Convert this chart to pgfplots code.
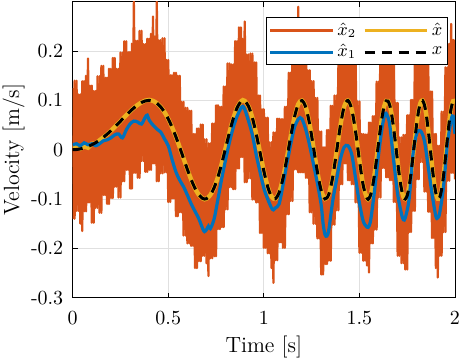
\documentclass[border=0pt]{standalone}
\usepackage{pgfplots}
\pgfplotsset{compat=1.18}
\definecolor{mOrange}{rgb}{0.850,0.325,0.098}
\definecolor{mYellow}{rgb}{0.929,0.694,0.125}
\definecolor{mBlue}{rgb}{0.000,0.447,0.741}
\begin{document}
\begin{tikzpicture}
\begin{axis}[
  scale only axis, width=191.15pt, height=148pt,
  xmin=0, xmax=2, ymin=-0.3, ymax=0.3,
  xtick={0,0.5,1,1.5,2},
  ytick={-0.3,-0.2,-0.1,0,0.1,0.2},
  yticklabels={-0.3,-0.2,-0.1,0,0.1,0.2},
  xticklabel style={yshift=-3.3pt},
  yticklabel style={xshift=-1.2pt},
  grid=major, major grid style={line width=0.4pt, draw=black!12},
  major tick length=2.5pt,
  tick style={black, line width=0.4pt},
  xlabel={Time [s]}, ylabel={Velocity [m/s]},
  label style={font=\fontsize{11}{13}\selectfont},
  xlabel style={yshift=1pt},
  ylabel style={yshift=-3.7pt},
  legend columns=2,
  legend image code/.code={\draw[#1, line width=1.5pt] (0cm,0cm) -- (1.1cm,0cm);},
  legend style={at={(rel axis cs:0.981,0.947)}, anchor=north east, draw=black, line width=0.4pt, fill=white,
    inner sep=1pt, font=\small, nodes={inner sep=1.5pt}, /tikz/every even column/.append style={column sep=2pt}},
]
\addplot[color=mOrange, line width=1.1pt, line join=round] coordinates {
(0.00,0.125)(0.01,-0.140)(0.02,0.140)(0.03,-0.124)(0.04,0.112)(0.05,-0.165)(0.06,0.139)(0.07,-0.125)(0.08,0.185)(0.09,-0.107)
(0.10,0.130)(0.11,-0.148)(0.12,0.119)(0.13,-0.118)(0.14,0.149)(0.15,-0.128)(0.16,0.170)(0.17,-0.092)(0.18,0.146)(0.19,-0.110)
(0.20,0.164)(0.21,-0.098)(0.22,0.186)(0.23,-0.075)(0.24,0.164)(0.25,-0.097)(0.26,0.197)(0.27,-0.064)(0.28,0.220)(0.29,-0.041)
(0.30,0.198)(0.31,-0.079)(0.32,0.300)(0.33,-0.047)(0.34,0.221)(0.35,-0.057)(0.36,0.241)(0.37,-0.023)(0.38,0.214)(0.39,-0.045)
(0.40,0.225)(0.41,-0.041)(0.42,0.270)(0.43,-0.028)(0.44,0.300)(0.45,-0.064)(0.46,0.222)(0.47,-0.048)(0.48,0.226)(0.49,-0.046)
(0.50,0.182)(0.51,-0.106)(0.52,0.151)(0.53,-0.099)(0.54,0.156)(0.55,-0.135)(0.56,0.150)(0.57,-0.127)(0.58,0.097)(0.59,-0.174)
(0.60,0.085)(0.61,-0.190)(0.62,0.079)(0.63,-0.195)(0.64,0.032)(0.65,-0.240)(0.66,0.043)(0.67,-0.226)(0.68,0.051)(0.69,-0.215)
(0.70,0.021)(0.71,-0.256)(0.72,0.013)(0.73,-0.220)(0.74,0.053)(0.75,-0.216)(0.76,0.090)(0.77,-0.161)(0.78,0.087)(0.79,-0.157)
(0.80,0.128)(0.81,-0.121)(0.82,0.175)(0.83,-0.076)(0.84,0.173)(0.85,-0.080)(0.86,0.220)(0.87,-0.038)(0.88,0.248)(0.89,-0.015)
(0.90,0.260)(0.91,-0.066)(0.92,0.193)(0.93,-0.058)(0.94,0.195)(0.95,-0.101)(0.96,0.177)(0.97,-0.107)(0.98,0.110)(0.99,-0.169)
(1.00,0.082)(1.01,-0.199)(1.02,0.065)(1.03,-0.210)(1.04,0.015)(1.05,-0.270)(1.06,0.035)(1.07,-0.224)(1.08,0.063)(1.09,-0.188)
(1.10,0.062)(1.11,-0.199)(1.12,0.087)(1.13,-0.131)(1.14,0.156)(1.15,-0.104)(1.16,0.211)(1.17,-0.040)(1.18,0.290)(1.19,-0.046)
(1.20,0.225)(1.21,-0.046)(1.22,0.225)(1.23,-0.057)(1.24,0.161)(1.25,-0.127)(1.26,0.139)(1.27,-0.150)(1.28,0.105)(1.29,-0.180)
(1.30,0.037)(1.31,-0.253)(1.32,0.005)(1.33,-0.232)(1.34,0.040)(1.35,-0.225)(1.36,0.089)(1.37,-0.152)(1.38,0.110)(1.39,-0.123)
(1.40,0.173)(1.41,-0.070)(1.42,0.227)(1.43,-0.028)(1.44,0.210)(1.45,-0.062)(1.46,0.217)(1.47,-0.070)(1.48,0.186)(1.49,-0.107)
(1.50,0.098)(1.51,-0.209)(1.52,0.032)(1.53,-0.225)(1.54,0.031)(1.55,-0.249)(1.56,0.055)(1.57,-0.190)(1.58,0.068)(1.59,-0.162)
(1.60,0.138)(1.61,-0.097)(1.62,0.210)(1.63,-0.037)(1.64,0.245)(1.65,-0.056)(1.66,0.223)(1.67,-0.062)(1.68,0.191)(1.69,-0.106)
(1.70,0.095)(1.71,-0.215)(1.72,0.025)(1.73,-0.230)(1.74,0.030)(1.75,-0.243)(1.76,0.070)(1.77,-0.167)(1.78,0.101)(1.79,-0.124)
(1.80,0.178)(1.81,-0.060)(1.82,0.236)(1.83,-0.025)(1.84,0.201)(1.85,-0.085)(1.86,0.175)(1.87,-0.126)(1.88,0.118)(1.89,-0.179)
(1.90,0.032)(1.91,-0.259)(1.92,0.008)(1.93,-0.215)(1.94,0.077)(1.95,-0.167)(1.96,0.167)(1.97,-0.063)(1.98,0.255)(1.99,-0.047)(2.00,0.223)
};
\addlegendentry{$\hat{x}_2$}
\addplot[color=mOrange, line width=1.1pt, line join=round, forget plot] coordinates {
(0.00,-0.140)(0.01,0.140)(0.02,-0.124)(0.03,0.112)(0.04,-0.150)(0.05,0.139)(0.06,-0.125)(0.07,0.150)(0.08,-0.107)(0.09,0.130)
(0.10,-0.148)(0.11,0.119)(0.12,-0.118)(0.13,0.149)(0.14,-0.128)(0.15,0.170)(0.16,-0.092)(0.17,0.146)(0.18,-0.110)(0.19,0.164)
(0.20,-0.098)(0.21,0.186)(0.22,-0.075)(0.23,0.164)(0.24,-0.097)(0.25,0.197)(0.26,-0.064)(0.27,0.220)(0.28,-0.041)(0.29,0.198)
(0.30,-0.079)(0.31,0.215)(0.32,-0.047)(0.33,0.221)(0.34,-0.057)(0.35,0.241)(0.36,-0.023)(0.37,0.214)(0.38,-0.045)(0.39,0.225)
(0.40,-0.041)(0.41,0.235)(0.42,-0.028)(0.43,0.230)(0.44,-0.064)(0.45,0.222)(0.46,-0.048)(0.47,0.226)(0.48,-0.046)(0.49,0.182)
(0.50,-0.106)(0.51,0.151)(0.52,-0.099)(0.53,0.156)(0.54,-0.135)(0.55,0.150)(0.56,-0.127)(0.57,0.097)(0.58,-0.174)(0.59,0.085)
(0.60,-0.190)(0.61,0.079)(0.62,-0.195)(0.63,0.032)(0.64,-0.240)(0.65,0.043)(0.66,-0.226)(0.67,0.051)(0.68,-0.215)(0.69,0.021)
(0.70,-0.230)(0.71,0.013)(0.72,-0.220)(0.73,0.053)(0.74,-0.216)(0.75,0.090)(0.76,-0.161)(0.77,0.087)(0.78,-0.157)(0.79,0.128)
(0.80,-0.121)(0.81,0.175)(0.82,-0.076)(0.83,0.173)(0.84,-0.080)(0.85,0.220)(0.86,-0.038)(0.87,0.248)(0.88,-0.015)(0.89,0.225)
(0.90,-0.066)(0.91,0.193)(0.92,-0.058)(0.93,0.195)(0.94,-0.101)(0.95,0.177)(0.96,-0.107)(0.97,0.110)(0.98,-0.169)(0.99,0.082)
(1.00,-0.199)(1.01,0.065)(1.02,-0.210)(1.03,0.015)(1.04,-0.240)(1.05,0.035)(1.06,-0.224)(1.07,0.063)(1.08,-0.188)(1.09,0.062)
(1.10,-0.199)(1.11,0.087)(1.12,-0.131)(1.13,0.156)(1.14,-0.104)(1.15,0.211)(1.16,-0.040)(1.17,0.215)(1.18,-0.046)(1.19,0.225)
(1.20,-0.046)(1.21,0.225)(1.22,-0.057)(1.23,0.161)(1.24,-0.127)(1.25,0.139)(1.26,-0.150)(1.27,0.105)(1.28,-0.180)(1.29,0.037)
(1.30,-0.253)(1.31,0.005)(1.32,-0.232)(1.33,0.040)(1.34,-0.225)(1.35,0.089)(1.36,-0.152)(1.37,0.110)(1.38,-0.123)(1.39,0.173)
(1.40,-0.070)(1.41,0.227)(1.42,-0.028)(1.43,0.210)(1.44,-0.062)(1.45,0.217)(1.46,-0.070)(1.47,0.186)(1.48,-0.107)(1.49,0.098)
(1.50,-0.209)(1.51,0.032)(1.52,-0.225)(1.53,0.031)(1.54,-0.235)(1.55,0.055)(1.56,-0.190)(1.57,0.068)(1.58,-0.162)(1.59,0.138)
(1.60,-0.097)(1.61,0.210)(1.62,-0.037)(1.63,0.215)(1.64,-0.056)(1.65,0.223)(1.66,-0.062)(1.67,0.191)(1.68,-0.106)(1.69,0.095)
(1.70,-0.215)(1.71,0.025)(1.72,-0.230)(1.73,0.030)(1.74,-0.243)(1.75,0.070)(1.76,-0.167)(1.77,0.101)(1.78,-0.124)(1.79,0.178)
(1.80,-0.060)(1.81,0.236)(1.82,-0.025)(1.83,0.201)(1.84,-0.085)(1.85,0.175)(1.86,-0.126)(1.87,0.118)(1.88,-0.179)(1.89,0.032)
(1.90,-0.240)(1.91,0.008)(1.92,-0.215)(1.93,0.077)(1.94,-0.167)(1.95,0.167)(1.96,-0.063)(1.97,0.215)(1.98,-0.047)(1.99,0.223)(2.00,-0.060)
};
\addplot[color=mYellow, line width=2.2pt, smooth] coordinates {
(0,0.004)(0.02,0.006)(0.04,0.002)(0.06,0.007)(0.08,0.004)(0.10,0.012)(0.12,0.013)(0.14,0.019)(0.16,0.025)(0.18,0.031)
(0.20,0.0385)(0.22,0.0460)(0.24,0.0538)(0.26,0.0619)(0.28,0.0699)(0.30,0.0776)(0.32,0.0847)(0.34,0.0909)(0.36,0.0958)(0.38,0.0995)
(0.40,0.1010)(0.42,0.0990)(0.44,0.0943)(0.46,0.0869)(0.48,0.0763)(0.50,0.0624)(0.52,0.0455)(0.54,0.0261)(0.56,0.0046)(0.58,-0.0178)
(0.60,-0.0400)(0.62,-0.0607)(0.64,-0.0784)(0.66,-0.0916)(0.68,-0.0989)(0.69,-0.1005)(0.70,-0.0992)(0.72,-0.0919)(0.74,-0.0770)(0.76,-0.0550)
(0.78,-0.0275)(0.80,0.0034)(0.82,0.0346)(0.84,0.0630)(0.86,0.0851)(0.88,0.0978)(0.89,0.1005)(0.90,0.0990)(0.92,0.0878)(0.94,0.0647)
(0.96,0.0323)(0.98,-0.0054)(1.00,-0.0431)(1.02,-0.0747)(1.04,-0.0949)(1.06,-0.0996)(1.08,-0.0869)(1.10,-0.0584)(1.12,-0.0184)(1.14,0.0258)
(1.16,0.0655)(1.18,0.0923)(1.20,0.0997)(1.22,0.0851)(1.24,0.0507)(1.26,0.0038)(1.28,-0.0447)(1.30,-0.0826)(1.32,-0.0997)(1.34,-0.0903)
(1.36,-0.0560)(1.38,-0.0053)(1.40,0.0476)(1.42,0.0869)(1.44,0.0999)(1.46,0.0815)(1.48,0.0364)(1.50,-0.0215)(1.52,-0.0726)(1.54,-0.0988)
(1.55,-0.0991)(1.56,-0.0897)(1.57,-0.0720)(1.58,-0.0474)(1.59,-0.0180)(1.60,0.0134)(1.61,0.0436)(1.62,0.0696)(1.63,0.0887)(1.64,0.0988)
(1.65,0.0986)(1.66,0.0880)(1.67,0.0680)(1.68,0.0405)(1.69,0.0085)(1.70,-0.0247)(1.71,-0.0554)(1.72,-0.0799)(1.73,-0.0954)(1.74,-0.0999)
(1.75,-0.0928)(1.76,-0.0746)(1.77,-0.0474)(1.78,-0.0143)(1.79,0.0207)(1.80,0.0534)(1.81,0.0795)(1.82,0.0957)(1.83,0.0998)(1.84,0.0909)
(1.85,0.0702)(1.86,0.0400)(1.87,0.0043)(1.88,-0.0321)(1.89,-0.0644)(1.90,-0.0879)(1.91,-0.0993)(1.92,-0.0967)(1.93,-0.0804)(1.94,-0.0525)
(1.95,-0.0168)(1.96,0.0216)(1.97,0.0569)(1.98,0.0839)(1.99,0.0983)(2.00,0.0978)
};
\addlegendentry{$\hat{x}$}
\addplot[color=mBlue, line width=1.6pt, smooth] coordinates {
(0.00,0.010)(0.02,0.012)(0.04,0.008)(0.06,0.014)(0.08,0.010)(0.10,0.012)(0.12,0.008)(0.14,0.012)(0.16,0.018)(0.18,0.020)
(0.20,0.024)(0.22,0.030)(0.24,0.032)(0.26,0.024)(0.28,0.040)(0.30,0.052)(0.32,0.058)(0.34,0.056)(0.36,0.052)(0.38,0.066)
(0.39,0.070)(0.40,0.060)(0.42,0.050)(0.44,0.042)(0.46,0.036)(0.48,0.022)(0.50,0.008)(0.52,-0.020)(0.54,-0.045)(0.56,-0.062)
(0.58,-0.075)(0.60,-0.092)(0.62,-0.110)(0.64,-0.125)(0.66,-0.140)(0.68,-0.160)(0.69,-0.166)(0.70,-0.162)(0.71,-0.155)(0.72,-0.160)
(0.74,-0.140)(0.76,-0.100)(0.78,-0.058)(0.80,-0.020)(0.82,0.015)(0.84,0.045)(0.86,0.068)(0.88,0.084)(0.89,0.088)(0.90,0.082)
(0.92,0.058)(0.94,0.030)(0.96,-0.010)(0.98,-0.045)(1.00,-0.078)(1.02,-0.100)(1.04,-0.118)(1.05,-0.122)(1.06,-0.118)(1.08,-0.110)
(1.10,-0.072)(1.12,-0.030)(1.14,0.010)(1.16,0.045)(1.18,0.062)(1.19,0.065)(1.20,0.062)(1.22,0.040)(1.24,0.008)(1.26,-0.030)
(1.28,-0.068)(1.30,-0.112)(1.31,-0.150)(1.32,-0.172)(1.33,-0.175)(1.34,-0.162)(1.36,-0.105)(1.38,-0.062)(1.40,-0.020)(1.42,0.005)
(1.44,0.008)(1.46,-0.010)(1.48,-0.058)(1.50,-0.108)(1.52,-0.145)(1.54,-0.157)(1.55,-0.155)(1.56,-0.140)(1.58,-0.080)(1.60,-0.010)
(1.62,0.048)(1.635,0.074)(1.65,0.065)(1.66,0.046)(1.68,-0.025)(1.70,-0.090)(1.72,-0.130)(1.73,-0.142)(1.74,-0.138)(1.76,-0.100)
(1.78,-0.010)(1.80,0.033)(1.82,0.038)(1.84,0.018)(1.86,-0.035)(1.88,-0.090)(1.90,-0.135)(1.91,-0.138)(1.92,-0.128)(1.94,-0.075)
(1.96,0.010)(1.98,0.060)(1.99,0.068)(2.00,0.032)
};
\addlegendentry{$\hat{x}_1$}
\addplot[color=black, line width=1.5pt, smooth, dash pattern=on 5pt off 3.5pt] coordinates {
(0,0)(0.02,0.0004)(0.04,0.0016)(0.06,0.0036)(0.08,0.0063)(0.10,0.0099)(0.12,0.0142)(0.14,0.0192)(0.16,0.0250)(0.18,0.0314)
(0.20,0.0385)(0.22,0.0460)(0.24,0.0538)(0.26,0.0619)(0.28,0.0699)(0.30,0.0776)(0.32,0.0847)(0.34,0.0909)(0.36,0.0958)(0.38,0.0989)
(0.40,0.1000)(0.42,0.0986)(0.44,0.0943)(0.46,0.0869)(0.48,0.0763)(0.50,0.0624)(0.52,0.0455)(0.54,0.0261)(0.56,0.0046)(0.58,-0.0178)
(0.60,-0.0400)(0.62,-0.0607)(0.64,-0.0784)(0.66,-0.0916)(0.68,-0.0989)(0.69,-0.1000)(0.70,-0.0992)(0.72,-0.0919)(0.74,-0.0770)(0.76,-0.0550)
(0.78,-0.0275)(0.80,0.0034)(0.82,0.0346)(0.84,0.0630)(0.86,0.0851)(0.88,0.0978)(0.89,0.0999)(0.90,0.0990)(0.92,0.0878)(0.94,0.0647)
(0.96,0.0323)(0.98,-0.0054)(1.00,-0.0431)(1.02,-0.0747)(1.04,-0.0949)(1.06,-0.0996)(1.08,-0.0869)(1.10,-0.0584)(1.12,-0.0184)(1.14,0.0258)
(1.16,0.0655)(1.18,0.0923)(1.20,0.0997)(1.22,0.0851)(1.24,0.0507)(1.26,0.0038)(1.28,-0.0447)(1.30,-0.0826)(1.32,-0.0997)(1.34,-0.0903)
(1.36,-0.0560)(1.38,-0.0053)(1.40,0.0476)(1.42,0.0869)(1.44,0.0999)(1.46,0.0815)(1.48,0.0364)(1.50,-0.0215)(1.52,-0.0726)(1.54,-0.0988)
(1.55,-0.0991)(1.56,-0.0897)(1.57,-0.0720)(1.58,-0.0474)(1.59,-0.0180)(1.60,0.0134)(1.61,0.0436)(1.62,0.0696)(1.63,0.0887)(1.64,0.0988)
(1.65,0.0986)(1.66,0.0880)(1.67,0.0680)(1.68,0.0405)(1.69,0.0085)(1.70,-0.0247)(1.71,-0.0554)(1.72,-0.0799)(1.73,-0.0954)(1.74,-0.0999)
(1.75,-0.0928)(1.76,-0.0746)(1.77,-0.0474)(1.78,-0.0143)(1.79,0.0207)(1.80,0.0534)(1.81,0.0795)(1.82,0.0957)(1.83,0.0998)(1.84,0.0909)
(1.85,0.0702)(1.86,0.0400)(1.87,0.0043)(1.88,-0.0321)(1.89,-0.0644)(1.90,-0.0879)(1.91,-0.0993)(1.92,-0.0967)(1.93,-0.0804)(1.94,-0.0525)
(1.95,-0.0168)(1.96,0.0216)(1.97,0.0569)(1.98,0.0839)(1.99,0.0983)(2.00,0.0978)
};
\addlegendentry{$x$}
\end{axis}
\pgfresetboundingbox
\useasboundingbox ([shift={(-36.35pt,-32.65pt)}]current axis.south west) rectangle ([shift={(4pt,0.85pt)}]current axis.north east);
\end{tikzpicture}
\end{document}
